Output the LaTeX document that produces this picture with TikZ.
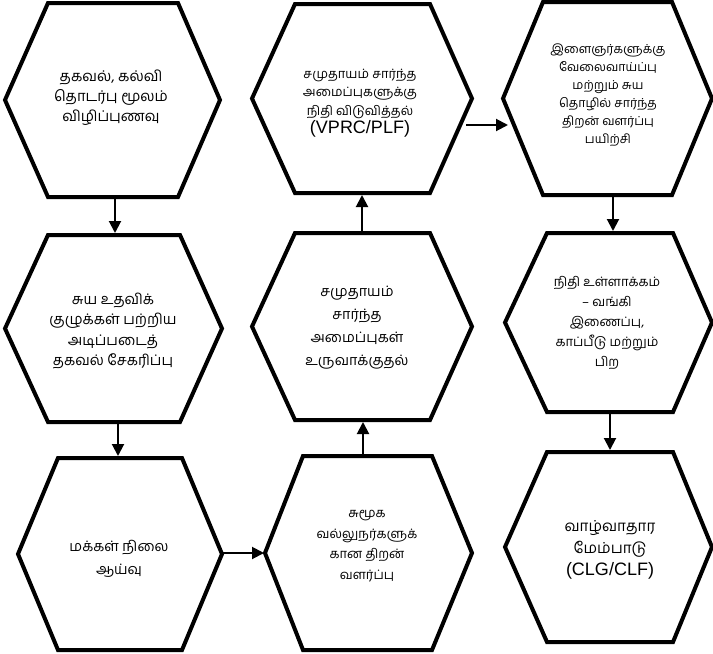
\documentclass[tikz,border=0pt]{standalone}
\usepackage{fontspec}
\setmainfont{Liberation Sans}
\newfontfamily\tafont[Script=Tamil]{Hind Madurai}
\newfontfamily\lafont{Liberation Sans}
\usetikzlibrary{arrows.meta}
\tikzset{
  hexline/.style={line width=4pt, line join=miter},
  txt/.style={align=center, inner sep=0pt},
  flow/.style={line width=2pt, -{Triangle[length=12pt,width=12pt]}},
}
\newcommand\fs[2]{\fontsize{#1}{#2}\selectfont\lineskiplimit=-30pt\lineskip=0pt\tafont}
\newcommand\latin[1]{{\lafont\fontsize{18}{18}\selectfont #1}}
\newcommand\hexshape[6]{% L, R, T, B, tl, tr
  \draw[hexline] (#1,{(#3+#4)/2}) -- (#5,#3) -- (#6,#3) -- (#2,{(#3+#4)/2}) -- (#6,#4) -- (#5,#4) -- cycle;
}
\begin{document}
\begin{tikzpicture}[x=1pt,y=-1pt]
\useasboundingbox (0,0) rectangle (713,654);
% hexagons
\hexshape{5}{220}{3}{197}{48}{178}
\hexshape{252}{472}{4}{193}{295}{430}
\hexshape{503}{712}{2}{195}{543}{672}
\hexshape{5}{222}{235}{422}{48}{180}
\hexshape{252}{472}{233}{420}{295}{430}
\hexshape{505}{712}{233}{412}{547}{673}
\hexshape{18}{222}{458}{650}{58}{182}
\hexshape{265}{472}{456}{650}{303}{432}
\hexshape{505}{712}{452}{642}{547}{673}
% texts
\node[txt, font=\fs{14.8}{20}] (t1) at (111,98) {தகவல், கல்வி\\தொடர்பு மூலம்\\விழிப்புணவு};
\node[txt, font=\fs{12.9}{18.5}] (t2) at (360,103) {சமுதாயம் சார்ந்த\\அமைப்புகளுக்கு\\நிதி விடுவித்தல்\\\latin{(VPRC/PLF)}};
\node[txt, font=\fs{12.4}{18}] (t3) at (608,95) {இளைஞர்களுக்கு\\வேலைவாய்ப்பு\\மற்றும் சுய\\தொழில் சார்ந்த\\திறன் வளர்ப்பு\\பயிற்சி};
\node[txt, font=\fs{14.6}{20.5}] (t4) at (113,331) {சுய உதவிக்\\குழுக்கள் பற்றிய\\அடிப்படைத்\\தகவல் சேகரிப்பு};
\node[txt, font=\fs{14.4}{23}] (t5) at (357,328) {சமுதாயம்\\சார்ந்த\\அமைப்புகள்\\உருவாக்குதல்};
\node[txt, font=\fs{13}{20}] (t6) at (607,323) {நிதி உள்ளாக்கம்\\– வங்கி\\இணைப்பு,\\காப்பீடு மற்றும்\\பிற};
\node[txt, font=\fs{14.4}{23}] (t7) at (119,559) {மக்கள் நிலை\\ஆய்வு};
\node[txt, font=\fs{13}{20.5}] (t8) at (367,546) {சுமூக\\வல்லுநர்களுக்\\கான திறன்\\வளர்ப்பு};
\node[txt, font=\fs{15.2}{22}] (t9) at (610,550) {வாழ்வாதார\\மேம்பாடு\\\latin{(CLG/CLF)}};
% connector anchors
\coordinate (h1s) at (115,197); \coordinate (h4n) at (115,233);
\coordinate (h4s) at (118,422); \coordinate (h7n) at (118,456);
\coordinate (h7e) at (222,553); \coordinate (h8w) at (264,553);
\coordinate (h8n) at (363,456); \coordinate (h5s) at (363,422);
\coordinate (h5n) at (362,233); \coordinate (h2s) at (362,195);
\coordinate (h2e) at (466,125); \coordinate (h3w) at (508,125);
\coordinate (h3s) at (613,195); \coordinate (h6n) at (613,231);
\coordinate (h6s) at (610,412); \coordinate (h9n) at (610,450);
% connectors
\draw[flow] (h1s) -- (h4n);
\draw[flow] (h4s) -- (h7n);
\draw[flow] (h7e) -- (h8w);
\draw[flow] (h8n) -- (h5s);
\draw[flow] (h5n) -- (h2s);
\draw[flow] (h2e) -- (h3w);
\draw[flow] (h3s) -- (h6n);
\draw[flow] (h6s) -- (h9n);
\end{tikzpicture}
\end{document}
